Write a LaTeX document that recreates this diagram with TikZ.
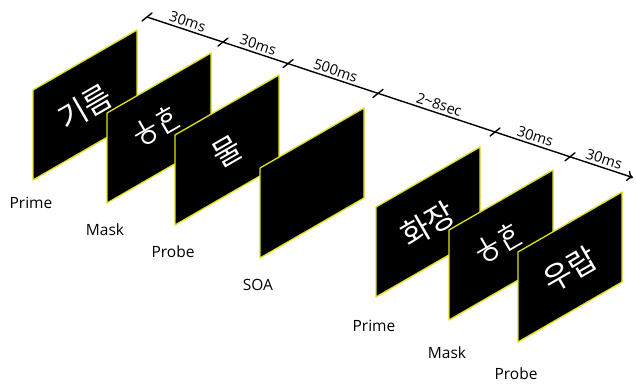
\documentclass[tikz,border=0pt]{standalone}
\usepackage{fontspec}
\setmainfont{Open Sans}
\newfontfamily\hanfont{Noto Sans CJK KR}
\usetikzlibrary{arrows.meta}
\definecolor{panelyellow}{RGB}{225,225,20}
\newcommand{\maskword}{{\fontsize{27}{20}\selectfont
  \begin{tabular}{@{}c@{\hspace{0pt}}c@{}}ㅗ&ㅎ\\[-11pt]ㅇ&ㄴ\end{tabular}}}
\begin{document}
\begin{tikzpicture}[x=1pt, y=1pt, line cap=round, line join=round,
    panel/.style={draw=panelyellow, fill=black, line width=1.3},
    word/.style={text=white, font=\hanfont\fontsize{31}{32}\selectfont, rotate=30, inner sep=0},
    cond/.style={font=\fontsize{15.5}{17}\selectfont, inner sep=0},
    dur/.style={font=\fontsize{14.5}{16}\selectfont, midway, sloped, above, inner sep=3},
    tick/.style={line width=1.4}]
  \useasboundingbox (0,0) rectangle (636,-385);
  % time line
  \coordinate (t0) at (147,-17);
  \coordinate (t1) at (223,-42.1);
  \coordinate (t2) at (288,-63.6);
  \coordinate (t3) at (378,-93.4);
  \coordinate (t4) at (495,-132);
  \coordinate (t5) at (570,-156.8);
  \coordinate (tend) at (633,-177.6);
  \draw[line width=1.4, -{To[length=6,width=11]}] (t0) -- (tend);
  \foreach \t in {t0,t1,t2,t3,t4,t5}
    \draw[tick] ([shift={(-5,-4)}]\t) -- ([shift={(5,4)}]\t);
  \path (t0) -- (t1) node[dur] {30ms};
  \path (t1) -- (t2) node[dur] {30ms};
  \path (t2) -- (t3) node[dur] {500ms};
  \path (t3) -- (t4) node[dur] {2\textasciitilde8sec};
  \path (t4) -- (t5) node[dur] {30ms};
  \path (t5) -- (tend) node[dur] {30ms};
  % the screens
  \foreach \i/\x/\y/\w/\lab/\ld in {1/33/90/기름/Prime/23, 2/107/113/{\maskword}/Mask/27,
      3/175/135/물/Probe/27, 4/260/168/{}/SOA/27, 5/376/207/화장/Prime/29,
      6/449/230/{\maskword}/Mask/33, 7/518/252/우랍/Probe/32} {
    \filldraw[panel] (\x,-\y) coordinate (p\i) -- ++(104,60) -- ++(0,-90) -- ++(-104,-60) -- cycle;
    \node[word] (w\i) at (\x+52,-\y-17) {\w};
    \node[cond] (l\i) at (\x-2,-\y-90-\ld) {\lab};
  }
\end{tikzpicture}
\end{document}
